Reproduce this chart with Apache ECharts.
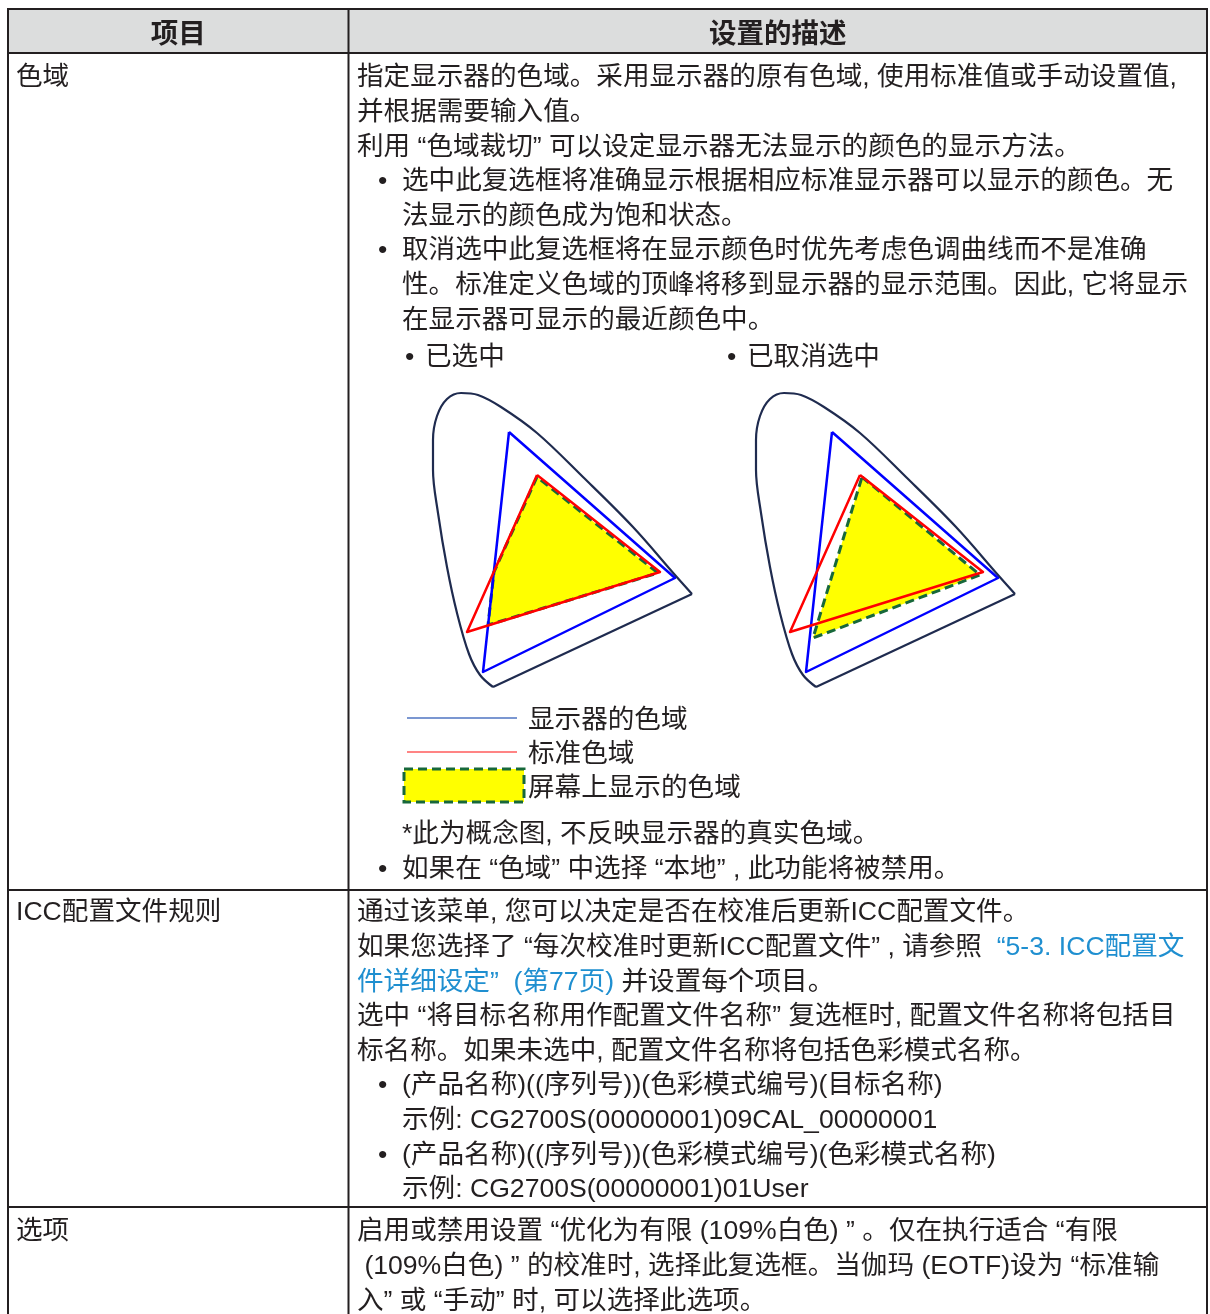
<!DOCTYPE html>
<html><head><meta charset="utf-8">
<script src="https://cdn.jsdelivr.net/npm/echarts@6/dist/echarts.min.js"></script>
<style>html,body{margin:0;padding:0;background:#fff}#c{width:1210px;height:1314px}</style>
</head><body><div id="c"></div>
<script>
// ---------- data ----------
const headerLabels = ['项目', '设置的描述'];
const itemNames = ['色域', 'ICC配置文件规则', '选项'];

// [indent level, text]  0 = plain, 1 = bullet, 2 = bullet continuation
const gamutLines = [
  [0, '指定显示器的色域。采用显示器的原有色域, 使用标准值或手动设置值,'],
  [0, '并根据需要输入值。'],
  [0, '利用 “色域裁切” 可以设定显示器无法显示的颜色的显示方法。'],
  [1, '选中此复选框将准确显示根据相应标准显示器可以显示的颜色。无'],
  [2, '法显示的颜色成为饱和状态。'],
  [1, '取消选中此复选框将在显示颜色时优先考虑色调曲线而不是准确'],
  [2, '性。标准定义色域的顶峰将移到显示器的显示范围。因此, 它将显示'],
  [2, '在显示器可显示的最近颜色中。']
];
const diagramTitles = ['已选中', '已取消选中'];
const legendLabels = ['显示器的色域', '标准色域', '屏幕上显示的色域'];
const gamutNote = '*此为概念图, 不反映显示器的真实色域。';
const gamutLast = '如果在 “色域” 中选择 “本地” , 此功能将被禁用。';

const iccLines = [
  [0, '通过该菜单, 您可以决定是否在校准后更新ICC配置文件。'],
  [0, '如果您选择了 “每次校准时更新ICC配置文件” , 请参照  {link|“5-3. ICC配置文}'],
  [0, '{link|件详细设定”  (第77页)} 并设置每个项目。'],
  [0, '选中 “将目标名称用作配置文件名称” 复选框时, 配置文件名称将包括目'],
  [0, '标名称。如果未选中, 配置文件名称将包括色彩模式名称。'],
  [1, '(产品名称)((序列号))(色彩模式编号)(目标名称)'],
  [2, '示例: CG2700S(00000001)09CAL_00000001'],
  [1, '(产品名称)((序列号))(色彩模式编号)(色彩模式名称)'],
  [2, '示例: CG2700S(00000001)01User']
];
const optionLines = [
  [0, '启用或禁用设置 “优化为有限 (109%白色) ” 。仅在执行适合 “有限'],
  [0, ' (109%白色) ” 的校准时, 选择此复选框。当伽玛 (EOTF)设为 “标准输'],
  [0, '入” 或 “手动” 时, 可以选择此选项。']
];

// chromaticity diagram (local diagram units)
const locusCurve = [[73,307],[60,295],[49,274],[37,233],[27,187],[18,133],[13,90],[13,60],[17,36],[27,19],[41,13],[58,15],[81,27],[117,53],[163,97],[213,147],[255,195],[272,214]];
const locusBase = [[272,214],[73,307]];
const displayGamut = [[89,52],[255,198],[63,292]];
const standardGamut = [[117,95],[240,192],[47,252]];
const screenGamutChecked = [[117,97],[74,192],[68,245],[238,193]];
const screenGamutUnchecked = [[119,97],[237,195],[70,258]];

// ---------- styles ----------
const FONT = '"Liberation Sans", "Noto Sans CJK SC", sans-serif';
const TXT = '#231f20';
const LINK = '#1f8fd0';
const FS = 26.6;
const LH = 34.6;
const DY = 3;
const L = 8, MID = 348.5, R = 1207, TOP = 9, HB = 53, R1 = 890, R2 = 1207, BOT = 1314;
const X0 = 357, XB = 378, XI = 402;

const g = [];
g.push({type:'rect', shape:{x:L, y:TOP, width:R-L, height:HB-TOP}, style:{fill:'#dcdddd'}, z:0});
function hline(y){ g.push({type:'line', shape:{x1:L-1, y1:y, x2:R+1, y2:y}, style:{stroke:TXT, lineWidth:2}, z:5}); }
function vline(x){ g.push({type:'line', shape:{x1:x, y1:TOP-1, x2:x, y2:BOT+2}, style:{stroke:TXT, lineWidth:2}, z:5}); }
[TOP, HB, R1, R2].forEach(hline);
[L, MID, R].forEach(vline);

function txt(x, y, s, opt){
  g.push({type:'text', x:x, y:y+DY, z:10, style:Object.assign({text:s, fill:TXT, font:FS+'px '+FONT, textVerticalAlign:'middle', textAlign:'left',
    rich:{link:{fill:LINK, fontSize:FS, fontFamily:FONT}}}, opt||{})});
}
// header
g.push({type:'text', x:(L+MID)/2, y:32+DY, z:10, style:{text:headerLabels[0], fill:TXT, font:'bold 27.5px '+FONT, textAlign:'center', textVerticalAlign:'middle'}});
g.push({type:'text', x:(MID+R)/2, y:32+DY, z:10, style:{text:headerLabels[1], fill:TXT, font:'bold 27.5px '+FONT, textAlign:'center', textVerticalAlign:'middle'}});
// column 1
txt(16, 75, itemNames[0]);
txt(16, 910, itemNames[1]);
txt(16, 1229, itemNames[2]);

function block(lines, y0){
  lines.forEach((ln, i) => {
    const y = y0 + i*LH;
    if (ln[0] === 1) { txt(XB, y, '•'); txt(XI, y, ln[1]); }
    else if (ln[0] === 2) txt(XI, y, ln[1]);
    else txt(X0, y, ln[1]);
  });
}
block(gamutLines, 75);
block(iccLines, 910);
block(optionLines, 1229);

// diagram titles
txt(405, 355, '•'); txt(425, 355, diagramTitles[0]);
txt(727, 355, '•'); txt(747, 355, diagramTitles[1]);

// legend
g.push({type:'line', shape:{x1:407, y1:718, x2:517, y2:718}, style:{stroke:'#4f74c2', lineWidth:1.3}, z:10});
g.push({type:'line', shape:{x1:407, y1:752, x2:517, y2:752}, style:{stroke:'#ff5b5b', lineWidth:1.3}, z:10});
g.push({type:'rect', shape:{x:404, y:769, width:120, height:33}, style:{fill:'#ffff00', stroke:'#17683a', lineWidth:3, lineDash:[9,5]}, z:10});
txt(528, 718, legendLabels[0]);
txt(528, 752, legendLabels[1]);
txt(528, 786, legendLabels[2]);
txt(402, 832, gamutNote);
txt(XB, 867, '•'); txt(XI, 867, gamutLast);

// ---------- series ----------
const series = [];
function closed(p){ return p.concat([p[0]]); }
[0,1].forEach(k => {
  const ax = {xAxisIndex:k, yAxisIndex:k};
  const scr = k === 0 ? screenGamutChecked : screenGamutUnchecked;
  series.push(Object.assign({type:'line', data:locusCurve, smooth:0.35, symbol:'none', lineStyle:{color:'#1f2b4f', width:2.2}, z:2}, ax));
  series.push(Object.assign({type:'line', data:locusBase, symbol:'none', lineStyle:{color:'#1f2b4f', width:2.2}, z:2}, ax));
  series.push(Object.assign({type:'custom', data:[[0,0]], z:3, clip:false,
    renderItem:(params, api) => ({type:'polygon', shape:{points:scr.map(p => api.coord(p))},
      style:{fill:'#ffff00', stroke:'#17683a', lineWidth:3, lineDash:[9,5]}})}, ax));
  series.push(Object.assign({type:'line', data:closed(displayGamut), symbol:'none', lineStyle:{color:'#0000ff', width:2.5, join:'round'}, z:4}, ax));
  series.push(Object.assign({type:'line', data:closed(standardGamut), symbol:'none', lineStyle:{color:'#ff0000', width:2.5, join:'round'}, z:5}, ax));
});

const chart = echarts.init(document.getElementById('c'), null, {renderer:'canvas'});
chart.setOption({
  animation:false,
  backgroundColor:'#ffffff',
  grid:[{left:420, top:380, width:300, height:320}, {left:743, top:380, width:300, height:320}],
  xAxis:[0,1].map(i => ({type:'value', gridIndex:i, min:0, max:300, show:false})),
  yAxis:[0,1].map(i => ({type:'value', gridIndex:i, min:0, max:320, inverse:true, show:false})),
  series:series,
  graphic:g
});
</script></body></html>
